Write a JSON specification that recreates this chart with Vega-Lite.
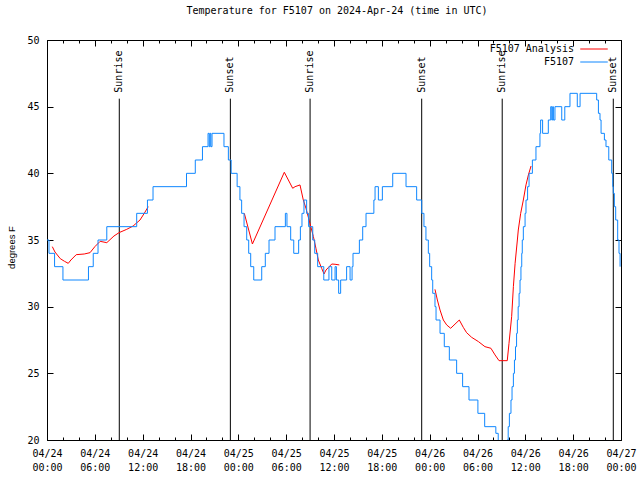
{
  "$schema": "https://vega.github.io/schema/vega-lite/v6.json",
  "width": 574,
  "height": 400,
  "autosize": {"type": "none"},
  "padding": {"left": 47, "top": 40, "right": 19, "bottom": 40},
  "background": "white",
  "title": {
    "text": "Temperature for F5107 on 2024-Apr-24 (time in UTC)",
    "font": "DejaVu Sans Mono",
    "fontSize": 10,
    "fontWeight": "normal",
    "color": "black",
    "anchor": "middle",
    "baseline": "alphabetic",
    "offset": 11,
    "dx": 3
  },
  "config": {
    "view": {"stroke": "black", "strokeWidth": 1},
    "axis": {
      "domain": false,
      "grid": false,
      "tickColor": "black",
      "tickWidth": 1,
      "labelColor": "black",
      "labelFont": "DejaVu Sans Mono",
      "labelFontSize": 10,
      "labelOverlap": false,
      "labelFlush": false,
      "labelBound": false,
      "title": null
    }
  },
  "datasets": {
    "obs": [
      {"t": "2024-04-24T00:00:00Z", "v": 35},
      {"t": "2024-04-24T00:15:00Z", "v": 34},
      {"t": "2024-04-24T00:57:00Z", "v": 33},
      {"t": "2024-04-24T02:00:00Z", "v": 32},
      {"t": "2024-04-24T05:12:00Z", "v": 33},
      {"t": "2024-04-24T05:48:00Z", "v": 34},
      {"t": "2024-04-24T06:24:00Z", "v": 35},
      {"t": "2024-04-24T07:30:00Z", "v": 36},
      {"t": "2024-04-24T11:15:00Z", "v": 37},
      {"t": "2024-04-24T12:36:00Z", "v": 38},
      {"t": "2024-04-24T13:18:00Z", "v": 39},
      {"t": "2024-04-24T17:30:00Z", "v": 40},
      {"t": "2024-04-24T18:36:00Z", "v": 41},
      {"t": "2024-04-24T19:30:00Z", "v": 42},
      {"t": "2024-04-24T20:12:00Z", "v": 43},
      {"t": "2024-04-24T20:21:00Z", "v": 42},
      {"t": "2024-04-24T20:27:00Z", "v": 43},
      {"t": "2024-04-24T20:33:00Z", "v": 42},
      {"t": "2024-04-24T20:42:00Z", "v": 43},
      {"t": "2024-04-24T22:12:00Z", "v": 42},
      {"t": "2024-04-24T22:45:00Z", "v": 41},
      {"t": "2024-04-24T23:06:00Z", "v": 40},
      {"t": "2024-04-24T23:51:00Z", "v": 39},
      {"t": "2024-04-25T00:12:00Z", "v": 38},
      {"t": "2024-04-25T00:25:00Z", "v": 37},
      {"t": "2024-04-25T00:43:00Z", "v": 36},
      {"t": "2024-04-25T01:03:00Z", "v": 35},
      {"t": "2024-04-25T01:18:00Z", "v": 34},
      {"t": "2024-04-25T01:33:00Z", "v": 33},
      {"t": "2024-04-25T01:56:00Z", "v": 32},
      {"t": "2024-04-25T02:56:00Z", "v": 33},
      {"t": "2024-04-25T03:23:00Z", "v": 34},
      {"t": "2024-04-25T03:51:00Z", "v": 35},
      {"t": "2024-04-25T04:36:00Z", "v": 36},
      {"t": "2024-04-25T05:54:00Z", "v": 37},
      {"t": "2024-04-25T06:06:00Z", "v": 36},
      {"t": "2024-04-25T06:34:00Z", "v": 35},
      {"t": "2024-04-25T06:57:00Z", "v": 34},
      {"t": "2024-04-25T07:34:00Z", "v": 35},
      {"t": "2024-04-25T07:47:00Z", "v": 36},
      {"t": "2024-04-25T07:59:00Z", "v": 37},
      {"t": "2024-04-25T08:14:00Z", "v": 38},
      {"t": "2024-04-25T08:34:00Z", "v": 37},
      {"t": "2024-04-25T08:49:00Z", "v": 36},
      {"t": "2024-04-25T09:20:00Z", "v": 35},
      {"t": "2024-04-25T09:35:00Z", "v": 34},
      {"t": "2024-04-25T09:57:00Z", "v": 33},
      {"t": "2024-04-25T10:43:00Z", "v": 32},
      {"t": "2024-04-25T11:22:00Z", "v": 33},
      {"t": "2024-04-25T11:43:00Z", "v": 32},
      {"t": "2024-04-25T12:08:00Z", "v": 33},
      {"t": "2024-04-25T12:18:00Z", "v": 32},
      {"t": "2024-04-25T12:35:00Z", "v": 31},
      {"t": "2024-04-25T12:50:00Z", "v": 32},
      {"t": "2024-04-25T13:35:00Z", "v": 33},
      {"t": "2024-04-25T14:01:00Z", "v": 32},
      {"t": "2024-04-25T14:16:00Z", "v": 33},
      {"t": "2024-04-25T14:23:00Z", "v": 34},
      {"t": "2024-04-25T15:11:00Z", "v": 35},
      {"t": "2024-04-25T15:36:00Z", "v": 36},
      {"t": "2024-04-25T16:01:00Z", "v": 37},
      {"t": "2024-04-25T17:00:00Z", "v": 38},
      {"t": "2024-04-25T17:09:00Z", "v": 39},
      {"t": "2024-04-25T17:34:00Z", "v": 38},
      {"t": "2024-04-25T18:04:00Z", "v": 39},
      {"t": "2024-04-25T19:22:00Z", "v": 40},
      {"t": "2024-04-25T21:02:00Z", "v": 39},
      {"t": "2024-04-25T22:22:00Z", "v": 38},
      {"t": "2024-04-25T23:00:00Z", "v": 37},
      {"t": "2024-04-25T23:17:00Z", "v": 36},
      {"t": "2024-04-25T23:32:00Z", "v": 35},
      {"t": "2024-04-25T23:50:00Z", "v": 34},
      {"t": "2024-04-26T00:00:00Z", "v": 33},
      {"t": "2024-04-26T00:15:00Z", "v": 32},
      {"t": "2024-04-26T00:23:00Z", "v": 31},
      {"t": "2024-04-26T00:40:00Z", "v": 30},
      {"t": "2024-04-26T00:48:00Z", "v": 29},
      {"t": "2024-04-26T01:18:00Z", "v": 28},
      {"t": "2024-04-26T01:50:00Z", "v": 27},
      {"t": "2024-04-26T02:28:00Z", "v": 26},
      {"t": "2024-04-26T03:23:00Z", "v": 25},
      {"t": "2024-04-26T04:08:00Z", "v": 24},
      {"t": "2024-04-26T04:56:00Z", "v": 23},
      {"t": "2024-04-26T06:03:00Z", "v": 22},
      {"t": "2024-04-26T06:54:00Z", "v": 21},
      {"t": "2024-04-26T08:18:00Z", "v": 20.5},
      {"t": "2024-04-26T08:36:00Z", "v": 19},
      {"t": "2024-04-26T09:43:00Z", "v": 20},
      {"t": "2024-04-26T09:51:00Z", "v": 21},
      {"t": "2024-04-26T10:00:00Z", "v": 22},
      {"t": "2024-04-26T10:12:00Z", "v": 23},
      {"t": "2024-04-26T10:20:00Z", "v": 24},
      {"t": "2024-04-26T10:30:00Z", "v": 25},
      {"t": "2024-04-26T10:38:00Z", "v": 26},
      {"t": "2024-04-26T10:46:00Z", "v": 27},
      {"t": "2024-04-26T10:54:00Z", "v": 28},
      {"t": "2024-04-26T11:00:00Z", "v": 29},
      {"t": "2024-04-26T11:06:00Z", "v": 30},
      {"t": "2024-04-26T11:13:00Z", "v": 31},
      {"t": "2024-04-26T11:20:00Z", "v": 32},
      {"t": "2024-04-26T11:27:00Z", "v": 33},
      {"t": "2024-04-26T11:33:00Z", "v": 34},
      {"t": "2024-04-26T11:37:00Z", "v": 35},
      {"t": "2024-04-26T11:45:00Z", "v": 36},
      {"t": "2024-04-26T11:58:00Z", "v": 37},
      {"t": "2024-04-26T12:05:00Z", "v": 38},
      {"t": "2024-04-26T12:17:00Z", "v": 39},
      {"t": "2024-04-26T12:28:00Z", "v": 40},
      {"t": "2024-04-26T12:53:00Z", "v": 41},
      {"t": "2024-04-26T13:20:00Z", "v": 42},
      {"t": "2024-04-26T13:50:00Z", "v": 43},
      {"t": "2024-04-26T13:55:00Z", "v": 44},
      {"t": "2024-04-26T14:10:00Z", "v": 43},
      {"t": "2024-04-26T14:53:00Z", "v": 44},
      {"t": "2024-04-26T15:11:00Z", "v": 45},
      {"t": "2024-04-26T15:19:00Z", "v": 44},
      {"t": "2024-04-26T15:26:00Z", "v": 45},
      {"t": "2024-04-26T15:31:00Z", "v": 44},
      {"t": "2024-04-26T15:43:00Z", "v": 45},
      {"t": "2024-04-26T16:34:00Z", "v": 44},
      {"t": "2024-04-26T16:57:00Z", "v": 45},
      {"t": "2024-04-26T17:36:00Z", "v": 46},
      {"t": "2024-04-26T18:31:00Z", "v": 45},
      {"t": "2024-04-26T18:52:00Z", "v": 46},
      {"t": "2024-04-26T20:57:00Z", "v": 45.5},
      {"t": "2024-04-26T21:10:00Z", "v": 44.5},
      {"t": "2024-04-26T21:22:00Z", "v": 44},
      {"t": "2024-04-26T21:30:00Z", "v": 43},
      {"t": "2024-04-26T21:55:00Z", "v": 42.5},
      {"t": "2024-04-26T22:07:00Z", "v": 42},
      {"t": "2024-04-26T22:28:00Z", "v": 41},
      {"t": "2024-04-26T22:50:00Z", "v": 40},
      {"t": "2024-04-26T22:58:00Z", "v": 39},
      {"t": "2024-04-26T23:02:00Z", "v": 38.5},
      {"t": "2024-04-26T23:10:00Z", "v": 37.5},
      {"t": "2024-04-26T23:20:00Z", "v": 36.5},
      {"t": "2024-04-26T23:35:00Z", "v": 35},
      {"t": "2024-04-26T23:45:00Z", "v": 34},
      {"t": "2024-04-26T23:53:00Z", "v": 33}
    ],
    "analysis": [
      {"seg": "a", "t": "2024-04-24T00:40:00Z", "v": 34.5},
      {"seg": "a", "t": "2024-04-24T01:00:00Z", "v": 34.1},
      {"seg": "a", "t": "2024-04-24T01:40:00Z", "v": 33.6},
      {"seg": "a", "t": "2024-04-24T02:12:00Z", "v": 33.4},
      {"seg": "a", "t": "2024-04-24T02:40:00Z", "v": 33.25},
      {"seg": "a", "t": "2024-04-24T03:00:00Z", "v": 33.5},
      {"seg": "a", "t": "2024-04-24T03:40:00Z", "v": 33.9},
      {"seg": "a", "t": "2024-04-24T04:40:00Z", "v": 33.95},
      {"seg": "a", "t": "2024-04-24T05:24:00Z", "v": 34.05},
      {"seg": "a", "t": "2024-04-24T06:00:00Z", "v": 34.5},
      {"seg": "a", "t": "2024-04-24T06:40:00Z", "v": 34.9},
      {"seg": "a", "t": "2024-04-24T07:30:00Z", "v": 34.8},
      {"seg": "a", "t": "2024-04-24T08:24:00Z", "v": 35.3},
      {"seg": "a", "t": "2024-04-24T09:02:00Z", "v": 35.55},
      {"seg": "a", "t": "2024-04-24T10:00:00Z", "v": 35.8},
      {"seg": "a", "t": "2024-04-24T10:48:00Z", "v": 36.05},
      {"seg": "a", "t": "2024-04-24T11:40:00Z", "v": 36.5},
      {"seg": "a", "t": "2024-04-24T12:12:00Z", "v": 37.0},
      {"seg": "a", "t": "2024-04-24T12:42:00Z", "v": 37.5},
      {"seg": "b", "t": "2024-04-25T00:45:00Z", "v": 37.0},
      {"seg": "b", "t": "2024-04-25T01:46:00Z", "v": 34.7},
      {"seg": "b", "t": "2024-04-25T05:46:00Z", "v": 40.08},
      {"seg": "b", "t": "2024-04-25T06:49:00Z", "v": 38.88},
      {"seg": "b", "t": "2024-04-25T07:07:00Z", "v": 39.0},
      {"seg": "b", "t": "2024-04-25T07:44:00Z", "v": 39.13},
      {"seg": "b", "t": "2024-04-25T08:09:00Z", "v": 38.0},
      {"seg": "b", "t": "2024-04-25T08:29:00Z", "v": 37.38},
      {"seg": "b", "t": "2024-04-25T08:59:00Z", "v": 36.25},
      {"seg": "b", "t": "2024-04-25T09:25:00Z", "v": 35.25},
      {"seg": "b", "t": "2024-04-25T09:44:00Z", "v": 34.38},
      {"seg": "b", "t": "2024-04-25T10:02:00Z", "v": 33.5},
      {"seg": "b", "t": "2024-04-25T10:27:00Z", "v": 32.88},
      {"seg": "b", "t": "2024-04-25T10:45:00Z", "v": 32.45},
      {"seg": "b", "t": "2024-04-25T11:00:00Z", "v": 32.75},
      {"seg": "b", "t": "2024-04-25T11:17:00Z", "v": 32.93},
      {"seg": "b", "t": "2024-04-25T11:43:00Z", "v": 33.2},
      {"seg": "b", "t": "2024-04-25T12:08:00Z", "v": 33.18},
      {"seg": "b", "t": "2024-04-25T12:40:00Z", "v": 33.13},
      {"seg": "c", "t": "2024-04-26T00:40:00Z", "v": 31.3},
      {"seg": "c", "t": "2024-04-26T00:58:00Z", "v": 30.5},
      {"seg": "c", "t": "2024-04-26T01:18:00Z", "v": 29.75},
      {"seg": "c", "t": "2024-04-26T01:43:00Z", "v": 29.0},
      {"seg": "c", "t": "2024-04-26T02:08:00Z", "v": 28.63},
      {"seg": "c", "t": "2024-04-26T02:38:00Z", "v": 28.38},
      {"seg": "c", "t": "2024-04-26T03:43:00Z", "v": 29.0},
      {"seg": "c", "t": "2024-04-26T04:13:00Z", "v": 28.45},
      {"seg": "c", "t": "2024-04-26T04:38:00Z", "v": 28.05},
      {"seg": "c", "t": "2024-04-26T05:16:00Z", "v": 27.7},
      {"seg": "c", "t": "2024-04-26T06:07:00Z", "v": 27.38},
      {"seg": "c", "t": "2024-04-26T06:56:00Z", "v": 27.0},
      {"seg": "c", "t": "2024-04-26T07:41:00Z", "v": 26.88},
      {"seg": "c", "t": "2024-04-26T08:12:00Z", "v": 26.38},
      {"seg": "c", "t": "2024-04-26T08:42:00Z", "v": 25.95},
      {"seg": "c", "t": "2024-04-26T09:44:00Z", "v": 25.95},
      {"seg": "c", "t": "2024-04-26T09:57:00Z", "v": 27.25},
      {"seg": "c", "t": "2024-04-26T10:17:00Z", "v": 29.25},
      {"seg": "c", "t": "2024-04-26T10:30:00Z", "v": 31.5},
      {"seg": "c", "t": "2024-04-26T10:43:00Z", "v": 33.25},
      {"seg": "c", "t": "2024-04-26T11:00:00Z", "v": 35.0},
      {"seg": "c", "t": "2024-04-26T11:07:00Z", "v": 35.75},
      {"seg": "c", "t": "2024-04-26T11:25:00Z", "v": 37.0},
      {"seg": "c", "t": "2024-04-26T11:45:00Z", "v": 38.0},
      {"seg": "c", "t": "2024-04-26T12:05:00Z", "v": 39.13},
      {"seg": "c", "t": "2024-04-26T12:23:00Z", "v": 39.88},
      {"seg": "c", "t": "2024-04-26T12:43:00Z", "v": 40.55}
    ],
    "sun": [
      {"t": "2024-04-24T09:04:00Z", "event": "Sunrise"},
      {"t": "2024-04-24T23:00:00Z", "event": "Sunset"},
      {"t": "2024-04-25T09:00:00Z", "event": "Sunrise"},
      {"t": "2024-04-25T23:00:00Z", "event": "Sunset"},
      {"t": "2024-04-26T09:06:00Z", "event": "Sunrise"},
      {"t": "2024-04-26T23:02:00Z", "event": "Sunset"}
    ]
  },
  "layer": [
    {
      "data": {"name": "sun"},
      "mark": {"type": "rule", "color": "black", "strokeWidth": 1},
      "encoding": {
        "x": {
          "field": "t", "type": "temporal",
          "scale": {"type": "utc", "nice": "day"},
          "axis": {"orient": "bottom", "tickCount": {"interval": "hours", "step": 2}, "tickSize": -3, "labels": false}
        },
        "y": {"datum": 45.6, "type": "quantitative", "scale": {"domain": [20, 50]}, "axis": null},
        "y2": {"datum": 20}
      }
    },
    {
      "data": {"name": "sun"},
      "mark": {"type": "text", "angle": 270, "align": "left", "baseline": "middle", "font": "DejaVu Sans Mono", "fontSize": 10, "color": "black"},
      "encoding": {
        "x": {
          "field": "t", "type": "temporal",
          "scale": {"type": "utc", "nice": "day"},
          "axis": {"orient": "top", "tickCount": {"interval": "hours", "step": 2}, "tickSize": -3, "labels": false}
        },
        "y": {"datum": 46.05, "type": "quantitative", "scale": {"domain": [20, 50]}, "axis": null},
        "text": {"field": "event", "type": "nominal"}
      }
    },
    {
      "data": {"name": "analysis"},
      "mark": {"type": "line", "strokeWidth": 1, "clip": true},
      "encoding": {
        "x": {
          "field": "t", "type": "temporal",
          "scale": {"type": "utc", "nice": "day"},
          "axis": {"orient": "top", "tickCount": {"interval": "hours", "step": 6}, "tickSize": -6, "labels": false}
        },
        "y": {
          "field": "v", "type": "quantitative", "scale": {"domain": [20, 50]},
          "axis": {"orient": "right", "values": [20, 25, 30, 35, 40, 45, 50], "tickSize": -6, "labels": false}
        },
        "detail": {"field": "seg", "type": "nominal"},
        "color": {
          "datum": "F5107 Analysis", "type": "nominal",
          "scale": {"domain": ["F5107 Analysis", "F5107"], "range": ["#ff0000", "#0f87ff"]},
          "legend": {
            "orient": "none", "legendX": 541, "legendY": 3,
            "title": null, "padding": 0,
            "symbolType": "M-2.5,0H2.5", "symbolSize": 121, "symbolStrokeWidth": 1,
            "rowPadding": 2,
            "labelAlign": "right", "labelOffset": -26,
            "labelFont": "DejaVu Sans Mono", "labelFontSize": 10, "labelColor": "black"
          }
        }
      }
    },
    {
      "data": {"name": "obs"},
      "mark": {"type": "line", "interpolate": "step-after", "strokeWidth": 1, "clip": true},
      "encoding": {
        "x": {
          "field": "t", "type": "temporal",
          "scale": {"type": "utc", "nice": "day"},
          "axis": {
            "orient": "bottom", "tickCount": {"interval": "hours", "step": 6}, "tickSize": -6,
            "labelPadding": 14, "labelLineHeight": 14, "labelBaseline": "top",
            "labelExpr": "[utcFormat(datum.value, '%m/%d'), utcFormat(datum.value, '%H:%M')]"
          }
        },
        "y": {
          "field": "v", "type": "quantitative", "scale": {"domain": [20, 50]},
          "axis": {
            "orient": "left", "values": [20, 25, 30, 35, 40, 45, 50], "tickSize": -6, "labelPadding": 14,
            "title": "degrees F", "titleFont": "Liberation Sans", "titleFontSize": 9.5, "titleFontWeight": "normal",
            "titleColor": "black", "titleAngle": 270, "titleBaseline": "middle", "titleAlign": "center", "titleX": -36, "titleY": 207
          }
        },
        "color": {"datum": "F5107", "type": "nominal"}
      }
    }
  ],
  "resolve": {"axis": {"x": "independent", "y": "independent"}}
}
